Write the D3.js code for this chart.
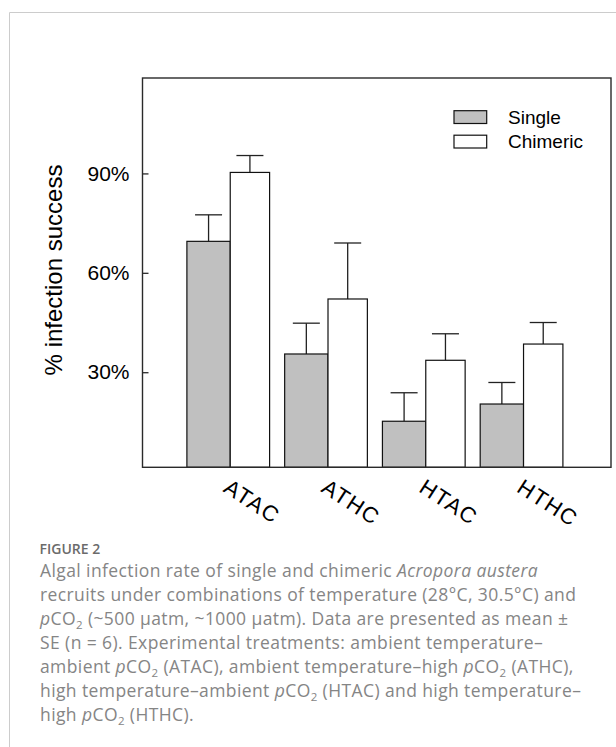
<!DOCTYPE html>
<meta charset="utf-8"/>
<style>
  body { margin: 0; background: #fff; }
</style>
<svg width="616" height="747"></svg>

<script src="https://d3js.org/d3.v7.min.js" charset="utf-8"></script>
<script>

// data (% infection success, mean and SE)
var treatments   = ["ATAC", "ATHC", "HTAC", "HTHC"];
var seriesNames  = ["Single", "Chimeric"];
var singleMean   = [69.5, 35.5, 15.2, 20.4];
var singleSE     = [8.0, 9.3, 8.6, 6.5];
var chimericMean = [90.3, 52.1, 33.6, 38.5];
var chimericSE   = [5.1, 16.9, 8.0, 6.5];
var yTicks       = [30, 60, 90];
var yDomain      = [1.3, 118.8];

var fills = ["#c0c0c0", "#ffffff"];

var svg = d3.select("svg");

// outer card border (top + left only)
svg.append("path")
    .attr("d", "M9.5,747 V12.5 H616")
    .attr("fill", "none")
    .attr("stroke", "#cccccc")
    .attr("stroke-width", 1);

// plot area
var plotL = 142.5, plotR = 611, plotT = 78, plotB = 467.3;

var y = d3.scaleLinear().domain(yDomain).range([plotB, plotT]);

var x = d3.scaleBand()
    .domain(treatments)
    .range([plotL, plotR])
    .paddingInner(0.154)
    .paddingOuter(0.473)
    .align(0.48);

// single bars are a bit wider than chimeric ones in the original
var inner  = d3.scaleOrdinal().domain(seriesNames).range([0, 0.524]);
var innerW = d3.scaleOrdinal().domain(seriesNames).range([0.524, 0.476]);

var rows = [];
treatments.forEach(function(t, i) {
    rows.push({ t: t, s: "Single",   mean: singleMean[i],   se: singleSE[i],   fill: fills[0] });
    rows.push({ t: t, s: "Chimeric", mean: chimericMean[i], se: chimericSE[i], fill: fills[1] });
});

function bx(d) { return x(d.t) + inner(d.s) * x.bandwidth(); }
function bw(d) { return innerW(d.s) * x.bandwidth(); }

var capW = 27;

// error bars (upper only)
var eb = svg.append("g").attr("stroke", "#222").attr("stroke-width", 1.3);
eb.selectAll("line.v").data(rows).enter().append("line")
    .attr("x1", function(d) { return bx(d) + bw(d) / 2; })
    .attr("x2", function(d) { return bx(d) + bw(d) / 2; })
    .attr("y1", function(d) { return y(d.mean); })
    .attr("y2", function(d) { return y(d.mean + d.se); });
eb.selectAll("line.c").data(rows).enter().append("line")
    .attr("x1", function(d) { return bx(d) + bw(d) / 2 - capW / 2; })
    .attr("x2", function(d) { return bx(d) + bw(d) / 2 + capW / 2; })
    .attr("y1", function(d) { return y(d.mean + d.se); })
    .attr("y2", function(d) { return y(d.mean + d.se); });

// bars
svg.append("g").selectAll("rect").data(rows).enter().append("rect")
    .attr("x", bx)
    .attr("width", bw)
    .attr("y", function(d) { return y(d.mean); })
    .attr("height", function(d) { return y(yDomain[0]) - y(d.mean); })
    .attr("fill", function(d) { return d.fill; })
    .attr("stroke", "#111")
    .attr("stroke-width", 1.2);

// frame
svg.append("rect")
    .attr("x", plotL).attr("y", plotT)
    .attr("width", plotR - plotL).attr("height", plotB - plotT)
    .attr("fill", "none")
    .attr("stroke", "#2a2a2a")
    .attr("stroke-width", 1.4);

// y axis, ticks pointing inward
var yAxis = d3.axisLeft(y)
    .tickValues(yTicks)
    .tickFormat(function(d) { return d + "%"; })
    .tickSizeInner(-6)
    .tickSizeOuter(0)
    .tickPadding(13);

var ga = svg.append("g")
    .attr("transform", "translate(" + plotL + ",0)")
    .call(yAxis);
ga.select(".domain").remove();
ga.selectAll(".tick line").attr("stroke", "#2a2a2a").attr("stroke-width", 1.3);
ga.selectAll(".tick text")
    .attr("fill", "#000")
    .style("font-family", "Liberation Sans, Arial, sans-serif")
    .style("font-size", "21px");

svg.append("text")
    .attr("transform", "translate(62,270) rotate(-90)")
    .attr("text-anchor", "middle")
    .style("font-family", "Liberation Sans, Arial, sans-serif")
    .style("font-size", "24px")
    .text("% infection success");

// category labels, slanted
svg.append("g").selectAll("text").data(treatments).enter().append("text")
    .attr("transform", function(d) {
        return "translate(" + (x(d) + x.bandwidth() / 2 - 6) + ",491) rotate(33)";
    })
    .style("font-family", "Liberation Sans, Arial, sans-serif")
    .style("font-size", "22px")
    .style("letter-spacing", "1.5px")
    .text(function(d) { return d; });

// legend
var lg = svg.append("g").attr("transform", "translate(454,110.7)");
var li = lg.selectAll("g").data(seriesNames).enter().append("g")
    .attr("transform", function(d, i) { return "translate(0," + i * 24.5 + ")"; });
li.append("rect")
    .attr("width", 32.7).attr("height", 12.8)
    .attr("fill", function(d, i) { return fills[i]; })
    .attr("stroke", "#111").attr("stroke-width", 1.2);
li.append("text")
    .attr("x", 54).attr("y", 12.8)
    .style("font-family", "Liberation Sans, Arial, sans-serif")
    .style("font-size", "19px")
    .text(function(d) { return d; });

// caption
var capFont = "'Open Sans', Lato, sans-serif";
svg.append("text")
    .attr("x", 39.5).attr("y", 554)
    .attr("fill", "#6b6b6b")
    .style("font-family", capFont)
    .style("font-size", "14px")
    .style("font-weight", "600")
    .text("FIGURE 2");

var captionLines = [
    [["Algal infection rate of single and chimeric ", ""], ["Acropora austera", "i"]],
    [["recruits under combinations of temperature (28\u00b0C, 30.5\u00b0C) and", ""]],
    [["p", "i"], ["CO", ""], ["2", "sub"], [" (~500 \u00b5atm, ~1000 \u00b5atm). Data are presented as mean \u00b1", ""]],
    [["SE (n = 6). Experimental treatments: ambient temperature\u2013", ""]],
    [["ambient ", ""], ["p", "i"], ["CO", ""], ["2", "sub"], [" (ATAC), ambient temperature\u2013high ", ""], ["p", "i"], ["CO", ""], ["2", "sub"], [" (ATHC),", ""]],
    [["high temperature\u2013ambient ", ""], ["p", "i"], ["CO", ""], ["2", "sub"], [" (HTAC) and high temperature\u2013", ""]],
    [["high ", ""], ["p", "i"], ["CO", ""], ["2", "sub"], [" (HTHC).", ""]]
];

var cap = svg.append("text")
    .attr("fill", "#858585")
    .style("font-family", capFont)
    .style("font-size", "17.5px")
    .style("letter-spacing", "0.4px");

captionLines.forEach(function(line, k) {
    var lowered = false;
    line.forEach(function(seg, j) {
        var t = cap.append("tspan").text(seg[0]);
        if (j === 0) t.attr("x", 40).attr("y", 577 + k * 24);
        if (seg[1] === "i") t.style("font-style", "italic");
        if (seg[1] === "sub") {
            t.attr("dy", 3.5).style("font-size", "11.5px");
            lowered = true;
        } else if (lowered) {
            t.attr("dy", -3.5);
            lowered = false;
        }
    });
});

</script>
